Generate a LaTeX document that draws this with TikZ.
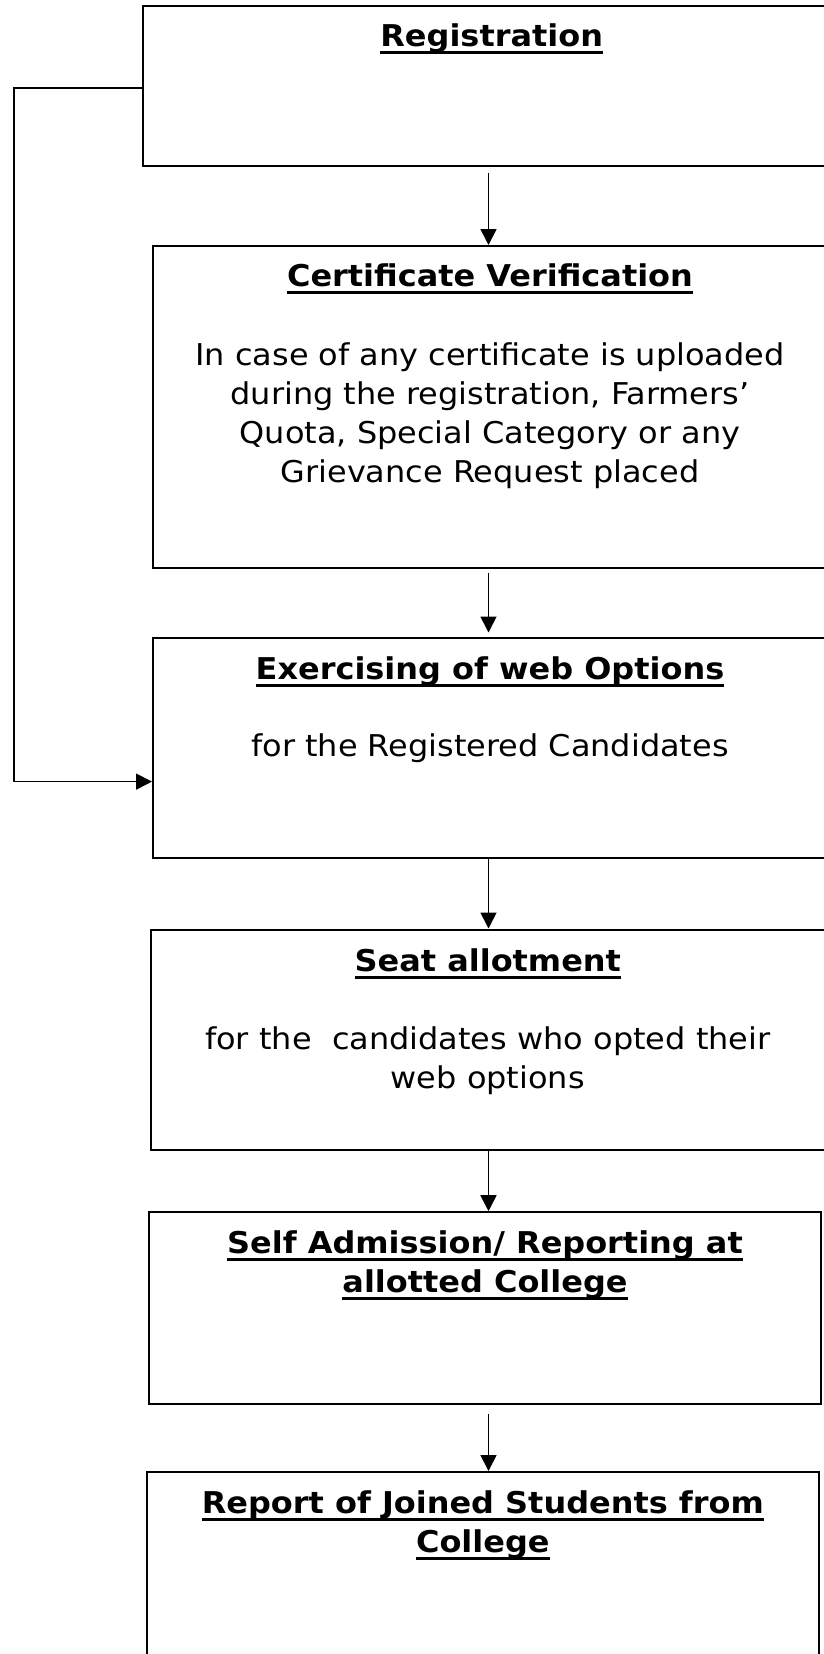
\documentclass[tikz,border=0pt]{standalone}
\usepackage{fontspec}
\setmainfont{DejaVu Sans}[FakeStretch=1.065]
\usepackage{tikz}
\usetikzlibrary{positioning, arrows.meta}
\newcommand{\uln}[1]{\setbox0\hbox{#1}\rlap{\rule[-7.5pt]{\wd0}{3pt}}\box0}
\tikzstyle{box}  = [draw, rectangle, line width=2pt, inner sep=0pt, anchor=north west]
\tikzstyle{head} = [font=\bfseries\fontsize{30}{39}\selectfont, align=center, anchor=base, inner sep=0pt]
\tikzstyle{body} = [font=\fontsize{30}{39}\selectfont, align=center, anchor=base, inner sep=0pt]
\tikzstyle{arr}  = [draw, line width=1.7pt, -{Triangle[length=16pt, width=16pt]}]

\begin{document}
\begin{tikzpicture}[x=1pt, y=1pt]
\useasboundingbox (0,0) rectangle (823,-1654);

% boxes
\node [box, minimum width=698pt, minimum height=160pt]   at (141.7,  -4.7)  (reg)  {};
\node [box, minimum width=674pt, minimum height=321.6pt] at (152,    -245)  (cert) {};
\node [box, minimum width=674pt, minimum height=220.2pt] at (152,  -636.5)  (opt)  {};
\node [box, minimum width=674pt, minimum height=220.5pt] at (149.8,-928.5)  (seat) {};
\node [box, minimum width=672.6pt, minimum height=191.8pt] at (147.7,-1211.2) (self) {};
\node [box, minimum width=672.3pt, minimum height=240pt] at (145.7, -1471)  (rep)  {};

% texts (base = baseline of the last line)
\node [head] at ([yshift=-42pt]reg.north)  (regT)  {\uln{Registration}};
\node [head] at ([yshift=-41pt]cert.north) (certT) {\uln{Certificate Verification}};
\node [body] at ([yshift=-237pt]cert.north) (certB) {In case of any certificate is uploaded\\during the registration, Farmers'\\Quota, Special Category or any\\Grievance Request placed};
\node [head] at ([yshift=-42.5pt]opt.north) (optT) {\uln{Exercising of web Options}};
\node [body] at ([yshift=-120pt]opt.north)  (optB) {for the Registered Candidates};
\node [head] at ([yshift=-42.5pt]seat.north) (seatT) {\uln{Seat allotment}};
\node [body] at ([yshift=-160pt]seat.north)  (seatB) {for the~ candidates who opted their\\web options};
\node [head] at ([yshift=-81.5pt]self.north) (selfT) {\uln{Self Admission/ Reporting at}\\\uln{allotted College}};
\node [head] at ([yshift=-81.5pt]rep.north)  (repT)  {\uln{Report of Joined Students from}\\\uln{College}};

% connectors
\coordinate (mid)  at (488.5, 0);
\coordinate (bend) at (14, 0);
\draw [arr] ([yshift=-6pt]reg.south -| mid) -- (cert.north -| mid);
\draw [arr] ([yshift=-4pt]cert.south -| mid) -- ([yshift=4pt]opt.north -| mid);
\draw [arr] (opt.south -| mid) -- (seat.north -| mid);
\draw [arr] (seat.south -| mid) -- (self.north -| mid);
\draw [arr] ([yshift=-9pt]self.south -| mid) -- (rep.north -| mid);
\draw [arr] ([yshift=-2pt]reg.west) -- ([yshift=-2pt]reg.west -| bend) |- ([yshift=-34pt]opt.west);

\end{tikzpicture}
\end{document}
